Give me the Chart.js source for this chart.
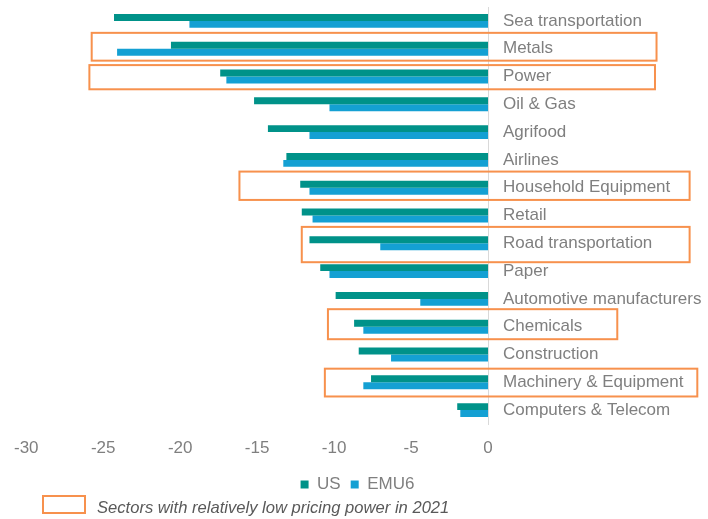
<!DOCTYPE html>
<html>
<head>
<meta charset="utf-8">
<script src="https://cdn.jsdelivr.net/npm/chart.js@4.4.0/dist/chart.umd.min.js"></script>
<style>
  html, body { margin: 0; padding: 0; background: #ffffff; }
  #wrap { width: 708px; height: 519px; position: relative; }
</style>
</head>
<body>
<div id="wrap"><canvas id="c"></canvas></div>
<script>
// ---- data ----
const categories = ['Sea transportation', 'Metals', 'Power', 'Oil & Gas', 'Agrifood', 'Airlines',
  'Household Equipment', 'Retail', 'Road transportation', 'Paper', 'Automotive manufacturers',
  'Chemicals', 'Construction', 'Machinery & Equipment', 'Computers & Telecom'];
const usValues   = [-24.3, -20.6, -17.4, -15.2, -14.3, -13.1, -12.2, -12.1, -11.6, -10.9, -9.9, -8.7, -8.4, -7.6, -2.0];
const emu6Values = [-19.4, -24.1, -17.0, -10.3, -11.6, -13.3, -11.6, -11.4, -7.0, -10.3, -4.4, -8.1, -6.3, -8.1, -1.8];
const xTicks = [-30, -25, -20, -15, -10, -5, 0];
const highlighted = ['Metals', 'Power', 'Household Equipment', 'Road transportation', 'Chemicals', 'Machinery & Equipment'];
const noteText = 'Sectors with relatively low pricing power in 2021';

// ---- annotation geometry (axis units) ----
const boxGeom = {
  'Metals':                {x0: -25.75, x1: 10.95, y0: -0.57, y1: 0.43},
  'Power':                 {x0: -25.9,  x1: 10.85, y0: -0.41, y1: 0.46},
  'Household Equipment':   {x0: -16.15, x1: 13.1,  y0: -0.58, y1: 0.44},
  'Road transportation':   {x0: -12.1,  x1: 13.1,  y0: -0.59, y1: 0.68},
  'Chemicals':             {x0: -10.4,  x1: 8.4,   y0: -0.63, y1: 0.45},
  'Machinery & Equipment': {x0: -10.6,  x1: 13.6,  y0: -0.49, y1: 0.51}
};

const GRAY = '#7f7f7f';
const ORANGE = '#f7914d';
const FONT = 'Liberation Sans, Arial, sans-serif';

const boxesPlugin = {
  id: 'boxes',
  afterLayout(chart) {
    if (chart.legend) { chart.legend.left -= 8; chart.legend.right -= 8; }
  },
  afterDraw(chart) {
    const ctx = chart.ctx;
    const xs = chart.scales.x, ys = chart.scales.y;
    ctx.save();
    ctx.strokeStyle = ORANGE;
    ctx.lineWidth = 2;
    highlighted.forEach(name => {
      const i = categories.indexOf(name);
      const g = boxGeom[name];
      const left = xs.getPixelForValue(g.x0);
      const right = xs.getPixelForValue(g.x1);
      const top = ys.getPixelForValue(i + g.y0);
      const bottom = ys.getPixelForValue(i + g.y1);
      ctx.strokeRect(left, top, right - left, bottom - top);
    });
    // note below legend
    ctx.strokeRect(43, 496, 42, 17);
    ctx.fillStyle = '#595959';
    ctx.font = 'italic 16.6px ' + FONT;
    ctx.textBaseline = 'middle';
    ctx.textAlign = 'left';
    ctx.fillText(noteText, 97, 508);
    ctx.restore();
  }
};

new Chart(document.getElementById('c'), {
  type: 'bar',
  data: {
    labels: categories,
    datasets: [
      { label: 'US', data: usValues, backgroundColor: '#009289', borderWidth: 0,
        categoryPercentage: 0.5, barPercentage: 1.0 },
      { label: 'EMU6', data: emu6Values, backgroundColor: '#14a0d3', borderWidth: 0,
        categoryPercentage: 0.5, barPercentage: 1.0 }
    ]
  },
  options: {
    indexAxis: 'y',
    responsive: true,
    maintainAspectRatio: false,
    animation: false,
    layout: { padding: { top: 7, left: 23, right: 0, bottom: 16 } },
    scales: {
      x: {
        type: 'linear',
        min: -30, max: 0,
        afterBuildTicks(scale) { scale.ticks = xTicks.map(v => ({ value: v })); },
        afterFit(scale) { scale.height = 42; },
        grid: { display: false, drawTicks: false },
        border: { display: false },
        ticks: { color: GRAY, font: { family: FONT, size: 17 }, padding: 14, maxRotation: 0 }
      },
      y: {
        position: 'right',
        afterFit(scale) { scale.width = 220; scale.paddingTop = 0; scale.paddingBottom = 0; },
        grid: { display: false, drawTicks: false },
        border: { display: true, color: '#d9d9d9', width: 1 },
        ticks: { color: GRAY, font: { family: FONT, size: 17 }, padding: 15, autoSkip: false }
      }
    },
    plugins: {
      legend: {
        position: 'bottom',
        labels: { color: GRAY, font: { family: FONT, size: 17 }, boxWidth: 8, boxHeight: 8, padding: 10 }
      },
      tooltip: { enabled: false }
    }
  },
  plugins: [boxesPlugin]
});
</script>
</body>
</html>
